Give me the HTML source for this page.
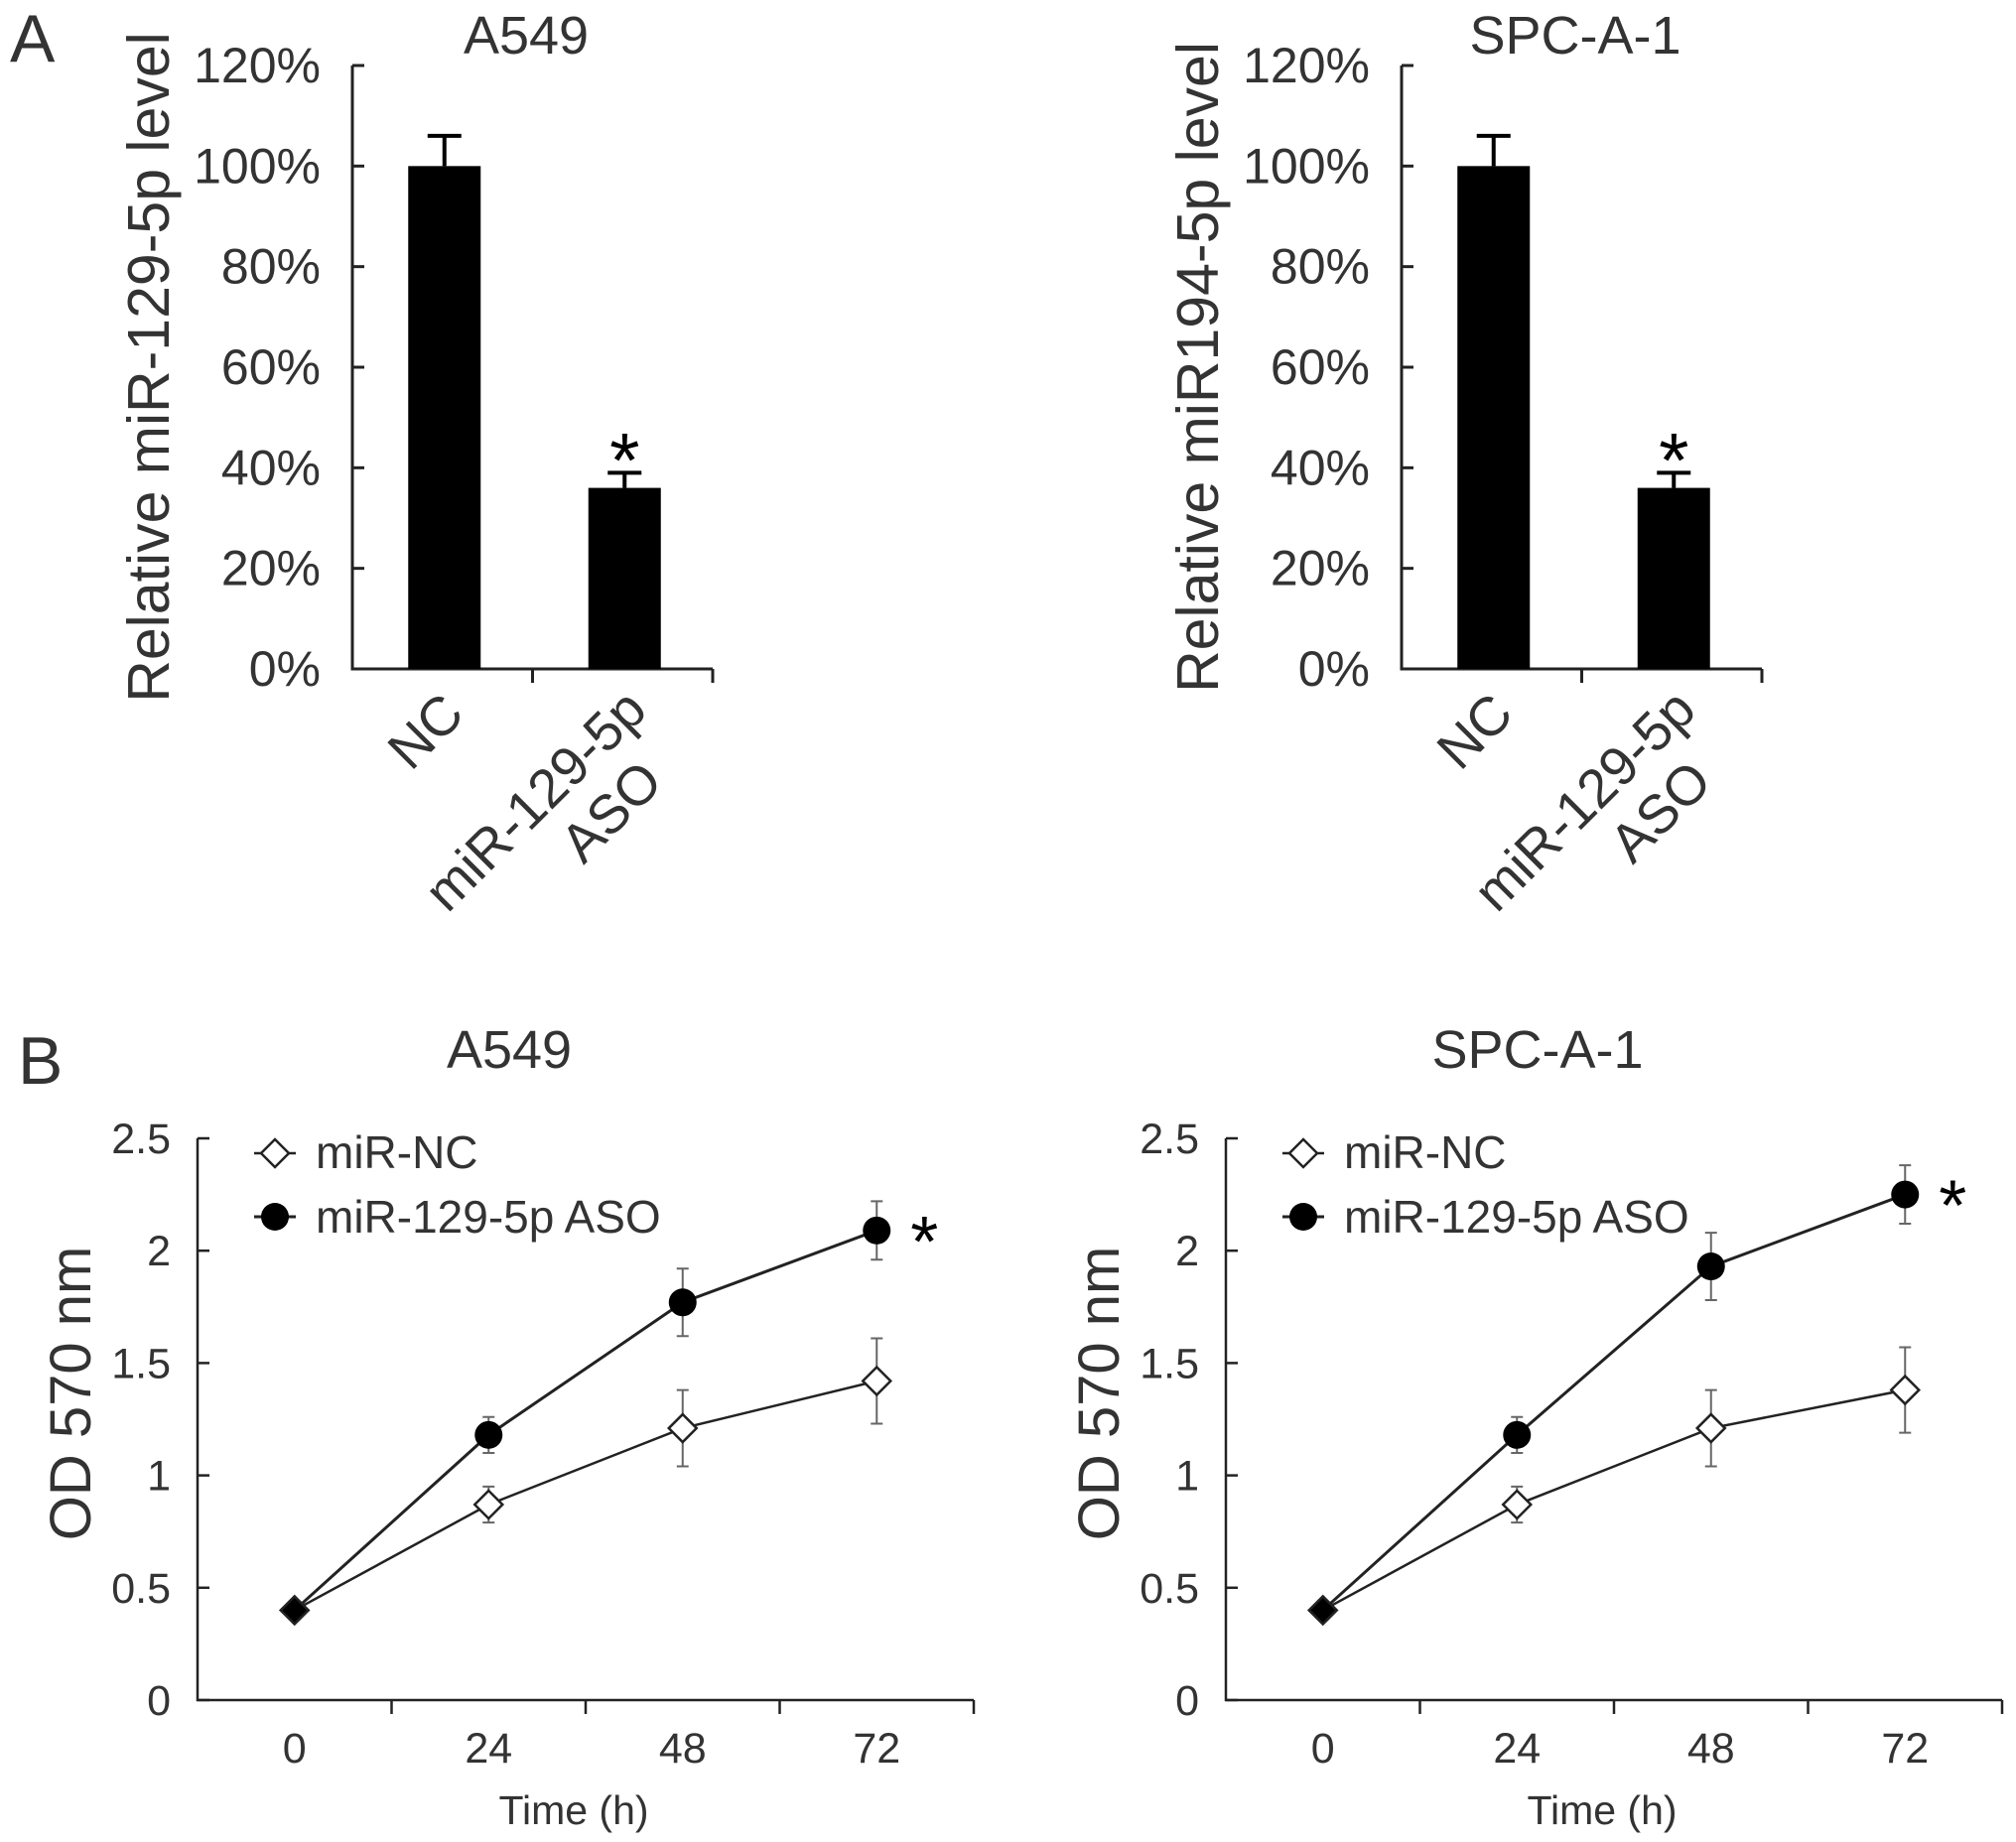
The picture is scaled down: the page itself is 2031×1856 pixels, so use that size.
<!DOCTYPE html>
<html><head><meta charset="utf-8"><style>
html,body{margin:0;padding:0;background:#fff}
svg{display:block}
text{font-family:"Liberation Sans",sans-serif;fill:#333}
</style></head><body>
<svg id="fig" width="2031" height="1856" viewBox="0 0 2031 1856"></svg>
<script>
// Panel A data
const barCategories = ["NC", "miR-129-5p ASO"];
const barValuesA549 = [100, 36];
const barErrorsA549 = [6, 3];
const barValuesSPC = [100, 36];
const barErrorsSPC = [6, 3];
const barTicks = [0, 20, 40, 60, 80, 100, 120];
const barTickLabels = ["0%", "20%", "40%", "60%", "80%", "100%", "120%"];
// Panel B data
const timeLabels = ["0", "24", "48", "72"];
const lineTicks = [0, 0.5, 1, 1.5, 2, 2.5];
const lineTickLabels = ["0", "0.5", "1", "1.5", "2", "2.5"];
const ncA549 = [0.40, 0.87, 1.21, 1.42];
const ncA549Err = [0, 0.08, 0.17, 0.19];
const asoA549 = [0.40, 1.18, 1.77, 2.09];
const asoA549Err = [0, 0.08, 0.15, 0.13];
const ncSPC = [0.40, 0.87, 1.21, 1.38];
const ncSPCErr = [0, 0.08, 0.17, 0.19];
const asoSPC = [0.40, 1.18, 1.93, 2.25];
const asoSPCErr = [0, 0.08, 0.15, 0.13];

const NS = "http://www.w3.org/2000/svg";
const svg = document.getElementById("fig");
function mk(tag, attrs, parent, txt) {
  const e = document.createElementNS(NS, tag);
  for (const k in attrs) e.setAttribute(k, attrs[k]);
  if (txt !== undefined) e.textContent = txt;
  (parent || svg).appendChild(e);
  return e;
}
const INK = "#222";

function barChart(ox, title, vals, errs, ytitle) {
  const g = mk("g", {});
  
  
  const x0 = 355 + ox, x1 = 718 + ox, yb = 674, yt = 66;
  const y = v => yb - (v / 120) * (yb - yt);
  const ax = mk("path", {d: `M${x0} ${yt}V${yb}H${x1}`, stroke: INK, "stroke-width": 3, fill: "none"}, g);
  
  
  barTicks.forEach((t, i) => {
    const tk = mk("line", {x1: x0, x2: x0 + 12, y1: y(t), y2: y(t), stroke: INK, "stroke-width": 3}, g);
    
    
    const tl = mk("text", {x: x0 - 32, y: y(t) + 17, "text-anchor": "end", "font-size": 50}, g, barTickLabels[i]);
    
    
  });
  const bw = (x1 - x0) / barCategories.length;
  [x0 + bw, x1].forEach(xx => {
    const tk = mk("line", {x1: xx, x2: xx, y1: yb, y2: yb + 14, stroke: INK, "stroke-width": 3}, g);
    
    
  });
  vals.forEach((v, i) => {
    const cx = x0 + bw * (i + 0.5) + 2;
    const w = 73;
    const r = mk("rect", {x: cx - w / 2, y: y(v), width: w, height: yb - y(v), fill: "#000"}, g);
    
    
    const e = mk("path", {d: `M${cx} ${y(v)}V${y(v + errs[i])}M${cx - 17} ${y(v + errs[i])}H${cx + 17}`, stroke: "#000", "stroke-width": 4, fill: "none"}, g);
    
    
    if (i === 1) {
      const s = mk("text", {x: cx, y: y(v + errs[i]) + 14, "text-anchor": "middle", "font-size": 78, style: "fill:#000"}, g, "*");
      
      
    }
  });
  const t = mk("text", {x: 530 + ox, y: 54, "text-anchor": "middle", "font-size": 54}, g, title);
  
  
  const yt2 = mk("text", {x: 0, y: 0, "text-anchor": "middle", "font-size": 59, transform: `translate(${170 + ox},370) rotate(-90)`}, g, ytitle);
  
  
  const l1 = mk("text", {x: 0, y: 0, "text-anchor": "end", "font-size": 55, transform: `translate(${470 + ox},722) rotate(-45)`}, g, "NC");
  
  
  const l2 = mk("text", {x: 0, y: 0, "text-anchor": "end", "font-size": 55, transform: `translate(${654 + ox},718) rotate(-45)`}, g, "miR-129-5p");
  
  
  const l3 = mk("text", {x: 0, y: 0, "text-anchor": "end", "font-size": 55, transform: `translate(${670 + ox},790) rotate(-45)`}, g, "ASO");
  
  
}

function diamond(g, cx, cy, fill) {
  return mk("path", {d: `M${cx} ${cy - 14}L${cx + 14} ${cy}L${cx} ${cy + 14}L${cx - 14} ${cy}Z`, fill: fill, stroke: INK, "stroke-width": 2.5}, g);
}

function lineChart(ox, title, nc, ncE, aso, asoE) {
  const g = mk("g", {});
  
  
  const x0 = 199 + ox, x1 = 981 + ox, yb = 1713, yt = 1147;
  const y = v => yb - (v / 2.5) * (yb - yt);
  const bw = (x1 - x0) / timeLabels.length;
  const x = i => x0 + bw * (i + 0.5);
  const ax = mk("path", {d: `M${x0} ${yt}V${yb}H${x1}`, stroke: INK, "stroke-width": 2.5, fill: "none"}, g);
  
  
  lineTicks.forEach((t, i) => {
    const tk = mk("line", {x1: x0, x2: x0 + 12, y1: y(t), y2: y(t), stroke: INK, "stroke-width": 2.5}, g);
    
    
    const tl = mk("text", {x: x0 - 27, y: y(t) + 15, "text-anchor": "end", "font-size": 43}, g, lineTickLabels[i]);
    
    
  });
  for (let i = 1; i <= timeLabels.length; i++) {
    const tk = mk("line", {x1: x0 + bw * i, x2: x0 + bw * i, y1: yb, y2: yb + 14, stroke: INK, "stroke-width": 2.5}, g);
    
    
  }
  timeLabels.forEach((t, i) => {
    const tl = mk("text", {x: x(i), y: 1776, "text-anchor": "middle", "font-size": 43}, g, t);
    
    
  });
  const xt = mk("text", {x: 578 + ox, y: 1838, "text-anchor": "middle", "font-size": 41}, g, "Time (h)");
  
  
  const ytl = mk("text", {x: 0, y: 0, "text-anchor": "middle", "font-size": 58, transform: `translate(${91 + ox},1404) rotate(-90)`}, g, "OD 570 nm");
  
  
  const tt = mk("text", {x: 513 + ox, y: 1076, "text-anchor": "middle", "font-size": 54}, g, title);
  
  
  [[nc, ncE], [aso, asoE]].forEach(([vals, errs]) => {
    vals.forEach((v, i) => {
      if (!errs[i]) return;
      const e = mk("path", {d: `M${x(i)} ${y(v - errs[i])}V${y(v + errs[i])}M${x(i) - 6} ${y(v - errs[i])}H${x(i) + 6}M${x(i) - 6} ${y(v + errs[i])}H${x(i) + 6}`, stroke: "#666", "stroke-width": 2, fill: "none"}, g);
      
      
    });
  });
  const p1 = mk("polyline", {points: nc.map((v, i) => x(i) + "," + y(v)).join(" "), fill: "none", stroke: INK, "stroke-width": 2.5}, g);
  
  
  const p2 = mk("polyline", {points: aso.map((v, i) => x(i) + "," + y(v)).join(" "), fill: "none", stroke: INK, "stroke-width": 3}, g);
  
  
  nc.forEach((v, i) => {
    const d = diamond(g, x(i), y(v), i === 0 ? "#000" : "#fff");
    
    
  });
  aso.forEach((v, i) => {
    if (i === 0) return;
    const c = mk("circle", {cx: x(i), cy: y(v), r: 14, fill: "#000"}, g);
    
    
  });
  const st = mk("text", {x: x(3) + 48, y: y(aso[3]) + 36, "text-anchor": "middle", "font-size": 72, style: "fill:#000"}, g, "*");
  
  
  const lg = mk("g", {}, g);
  
  
  const lx = 277 + ox;
  mk("line", {x1: lx - 21, x2: lx + 21, y1: 1162, y2: 1162, stroke: INK, "stroke-width": 2.5}, lg);
  diamond(lg, lx, 1162, "#fff");
  const le1 = mk("text", {x: 318 + ox, y: 1177, "font-size": 46}, lg, "miR-NC");
  
  
  mk("line", {x1: lx - 21, x2: lx + 21, y1: 1226, y2: 1226, stroke: INK, "stroke-width": 3}, lg);
  mk("circle", {cx: lx, cy: 1226, r: 14, fill: "#000"}, lg);
  const le2 = mk("text", {x: 318 + ox, y: 1242, "font-size": 46}, lg, "miR-129-5p ASO");
  
  
}

barChart(0, "A549", barValuesA549, barErrorsA549, "Relative miR-129-5p level");
barChart(1057, "SPC-A-1", barValuesSPC, barErrorsSPC, "Relative miR194-5p level");
lineChart(0, "A549", ncA549, ncA549Err, asoA549, asoA549Err);
lineChart(1036, "SPC-A-1", ncSPC, ncSPCErr, asoSPC, asoSPCErr);

const pa = mk("text", {x: 10, y: 62, "font-size": 68}, svg, "A");


const pb = mk("text", {x: 18, y: 1092, "font-size": 68}, svg, "B");


</script>
</body></html>
